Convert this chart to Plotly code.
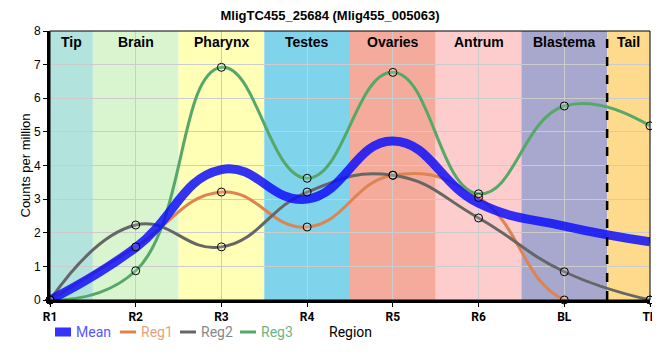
import plotly.graph_objects as go

# ---- data ----
regions = ["R1", "R2", "R3", "R4", "R5", "R6", "BL", "TP"]
mean_vals = [0.0, 1.56, 3.88, 3.0, 4.73, 2.88, 2.2, 1.73]
reg1_vals = [0.0, 1.58, 3.21, 2.17, 3.71, 3.05, 0.0, 0.0]
reg2_vals = [0.0, 2.23, 1.58, 3.21, 3.71, 2.44, 0.84, 0.0]
reg3_vals = [0.0, 0.87, 6.92, 3.62, 6.77, 3.16, 5.77, 5.18]

band_names = ["Tip", "Brain", "Pharynx", "Testes", "Ovaries", "Antrum", "Blastema", "Tail"]
band_starts = [0.0, 0.5, 1.5, 2.5, 3.5, 4.5, 5.5, 6.5]
band_ends = [0.5, 1.5, 2.5, 3.5, 4.5, 5.5, 6.5, 7.0]
band_colors = ["#b3e3dd", "#d8f5d0", "#ffffb5", "#7fd3ea", "#f5ab9b", "#fdcccc", "#a8a8cf", "#fedb8c"]

title_text = "MligTC455_25684 (Mlig455_005063)"

# ---- styles ----
c_mean = "rgba(15,15,250,0.85)"
c_reg1 = "#dd8452"
c_reg2 = "#666666"
c_reg3 = "#55a868"

xs = list(range(len(regions)))

fig = go.Figure()

series = [("Reg1", reg1_vals, c_reg1), ("Reg2", reg2_vals, c_reg2), ("Reg3", reg3_vals, c_reg3)]
for name, vals, col in series:
    fig.add_trace(go.Scatter(x=xs, y=vals, mode="lines", name=name,
                             line=dict(color=col, width=3, shape="spline", smoothing=1.3),
                             showlegend=False, cliponaxis=False, hoverinfo="skip"))

fig.add_trace(go.Scatter(x=xs, y=mean_vals, mode="lines", name="Mean",
                         line=dict(color=c_mean, width=9, shape="spline", smoothing=1.3),
                         showlegend=False, cliponaxis=False))

for name, vals, col in series:
    fig.add_trace(go.Scatter(x=xs, y=vals, mode="markers", name=name + " points",
                             marker=dict(size=8, color="rgba(255,255,255,0.15)",
                                         line=dict(color="black", width=1)),
                             showlegend=False, cliponaxis=False))

shapes = []
for s, e, c in zip(band_starts, band_ends, band_colors):
    shapes.append(dict(type="rect", xref="x", yref="paper", x0=s, x1=e, y0=0, y1=1,
                       fillcolor=c, line=dict(width=0), layer="below"))
# dashed separator before Tail
shapes.append(dict(type="line", xref="x", yref="paper", x0=band_starts[-1], x1=band_starts[-1],
                   y0=0, y1=1, line=dict(color="black", width=2.5, dash="dash"), layer="above"))
# frame
shapes.append(dict(type="rect", xref="paper", yref="paper", x0=0, x1=1, y0=0, y1=1,
                   line=dict(color="black", width=1), layer="above"))

annotations = []
for s, e, n in zip(band_starts, band_ends, band_names):
    annotations.append(dict(x=(s + e) / 2, xref="x", y=0.995, yref="paper", text="<b>" + n + "</b>",
                            showarrow=False, yanchor="top",
                            font=dict(family="Liberation Sans, Arial", size=14, color="black")))

# custom legend (below plot)
W, H = 600.0, 269.0
leg_y = -32.0 / H
legend_items = [("Mean", c_mean, 9, 5, 24, "#5555ff"),
                ("Reg1", c_reg1, 3, 70, 89, "#e6a27a"),
                ("Reg2", c_reg2, 3, 130, 149, "#888888"),
                ("Reg3", c_reg3, 3, 190, 209, "#6fb47f")]
for name, col, w, x0px, txpx, tcol in legend_items:
    shapes.append(dict(type="line", xref="paper", yref="paper", x0=x0px / W, x1=(x0px + 16) / W,
                       y0=leg_y, y1=leg_y, line=dict(color=col, width=w)))
    annotations.append(dict(x=txpx / W, xref="paper", y=leg_y, yref="paper", text=name,
                            showarrow=False, xanchor="left", yanchor="middle",
                            font=dict(family="Roboto", size=14, color=tcol)))

# axis titles
annotations.append(dict(x=0.5, xref="paper", y=leg_y, yref="paper", text="Region", showarrow=False,
                        xanchor="center", yanchor="middle",
                        font=dict(family="Roboto", size=14, color="black")))
annotations.append(dict(x=-25.0 / W, xref="paper", y=0.5, yref="paper", text="Counts per million",
                        showarrow=False, textangle=-90, xanchor="center", yanchor="middle",
                        font=dict(family="Liberation Sans, Arial", size=13, color="black")))

# page body has an 8px margin, so the figure is sized/offset to compensate
fig.update_layout(
    width=660, height=344,
    margin=dict(l=42, r=18, t=23, b=52, autoexpand=False),
    paper_bgcolor="white", plot_bgcolor="white",
    title=dict(text="<b>" + title_text + "</b>", x=(330 - 8) / 660.0, xanchor="center", y=1 - 3.0 / 344,
               yanchor="top", pad=dict(t=0, b=0, l=0, r=0),
               font=dict(family="Liberation Sans, Arial", size=13, color="black")),
    showlegend=False,
    shapes=shapes, annotations=annotations,
    xaxis=dict(range=[0, 7], tickmode="array", tickvals=xs, ticktext=["<b>" + r + "</b>" for r in regions],
               automargin=False, ticklabeloverflow="allow",
               showgrid=True, gridcolor="#cccccc", gridwidth=1, zeroline=False,
               showline=True, linecolor="black", linewidth=3, ticks="outside", ticklen=4,
               tickcolor="black", tickwidth=1,
               tickfont=dict(family="Roboto", size=12, color="black")),
    yaxis=dict(range=[0, 8], dtick=1, showgrid=True, gridcolor="#cccccc", gridwidth=1, zeroline=False,
               automargin=False,
               showline=True, linecolor="black", linewidth=3, ticks="outside", ticklen=4,
               tickcolor="black", tickwidth=1,
               tickfont=dict(family="Liberation Sans, Arial", size=12, color="black")),
)

fig.write_html("out.html")
